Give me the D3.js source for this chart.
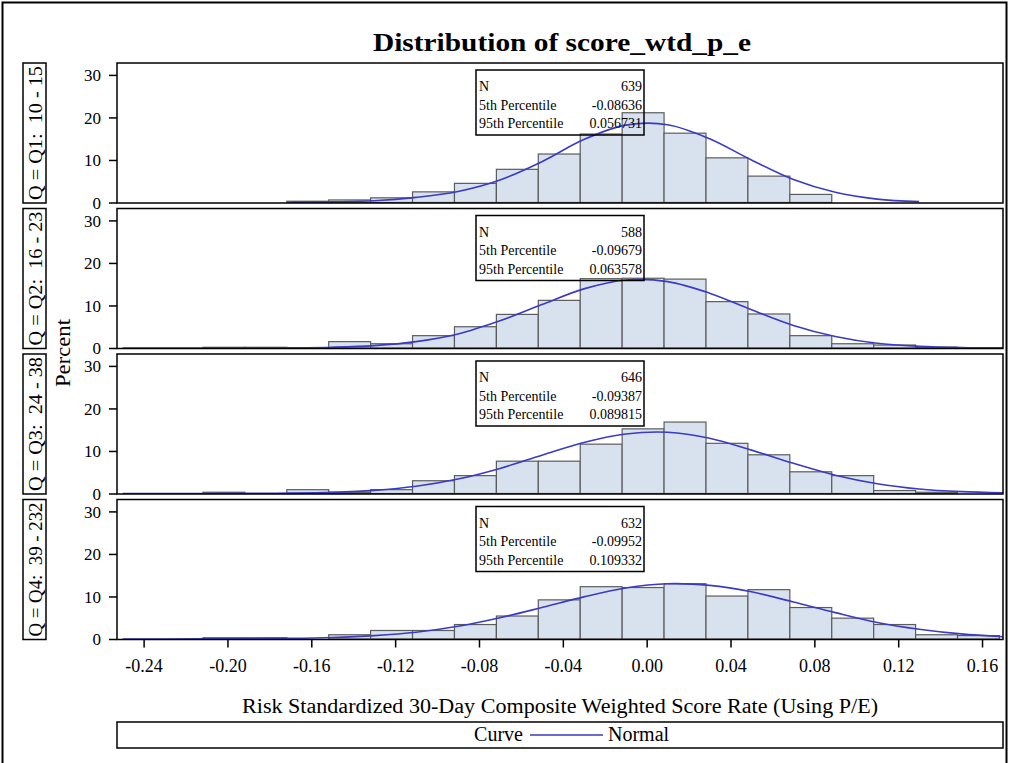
<!DOCTYPE html>
<html>
<head>
<meta charset="utf-8">
<script src="https://cdn.jsdelivr.net/npm/d3@7"></script>
<style>
    body { margin: 0; background: #fff; }
</style>
</head>
<body>
<div id="contents"></div>
<script>
// histogram bins (midpoints as drawn, sitting a little left of the ticks), percent per bin
var binMid = [-0.2417, -0.2217, -0.2017, -0.1817, -0.1617, -0.1417, -0.1217, -0.1017, -0.0817, -0.0617, -0.0417,
              -0.0217, -0.0017, 0.0183, 0.0383, 0.0583, 0.0783, 0.0983, 0.1183, 0.1383, 0.1583];
var pctQ1  = [0, 0, 0, 0, 0.3, 0.6, 1.1, 2.5, 4.5, 7.8, 11.4, 16.1, 21.1, 16.3, 10.5, 6.2, 1.9, 0, 0, 0, 0];
var pctQ2  = [0, 0, 0.17, 0.17, 0, 1.5, 1.0, 2.9, 5.0, 7.9, 11.2, 16.3, 16.4, 16.2, 10.9, 8.0, 2.9, 1.0, 0.7, 0.2, 0];
var pctQ3  = [0, 0, 0.3, 0, 0.9, 0.3, 0.9, 3.0, 4.2, 7.6, 7.6, 11.6, 15.2, 16.8, 11.8, 9.1, 5.1, 4.2, 0.7, 0.3, 0];
var pctQ4  = [0, 0, 0.3, 0.3, 0, 1.0, 2.0, 2.0, 3.4, 5.4, 9.2, 12.3, 12.1, 13.0, 10.1, 11.6, 7.4, 4.9, 3.4, 1.0, 0.8];

// fitted normal curve, read at these x positions (null = not drawn)
var curveX  = [-0.25, -0.23, -0.21, -0.19, -0.17, -0.15, -0.13, -0.11, -0.09, -0.07, -0.05,
               -0.03, -0.01, 0.01, 0.03, 0.05, 0.07, 0.09, 0.11, 0.13, 0.15, 0.17];
var curveQ1 = [null, null, null, null, 0.05, 0.15, 0.4, 1.2, 2.6, 5.3, 9.6, 14.8, 18.2, 18.3, 15.0, 10.0, 5.4, 2.4, 0.8, 0.2, null, null];
var curveQ2 = [0, 0, 0, 0.01, 0.05, 0.18, 0.56, 1.5, 3.3, 6.4, 10.2, 13.9, 16.0, 15.6, 12.9, 9.0, 5.3, 2.7, 1.1, 0.41, 0.12, 0.03];
var curveQ3 = [0, 0, 0.01, 0.03, 0.1, 0.29, 0.74, 1.7, 3.4, 5.9, 9.0, 12.0, 14.0, 14.4, 13.0, 10.2, 7.1, 4.3, 2.3, 1.06, 0.43, 0.15];
var curveQ4 = [0, 0.01, 0.02, 0.05, 0.14, 0.35, 0.8, 1.6, 3.0, 5.0, 7.4, 9.9, 12.0, 13.0, 12.6, 11.1, 8.7, 6.2, 3.9, 2.3, 1.2, 0.54];

var groups   = ['Q = Q1:  10 - 15', 'Q = Q2:  16 - 23', 'Q = Q3:  24 - 38', 'Q = Q4:  39 - 232'];
var statN    = ['639', '588', '646', '632'];
var stat5th  = ['-0.08636', '-0.09679', '-0.09387', '-0.09952'];
var stat95th = ['0.056731', '0.063578', '0.089815', '0.109332'];

var xTicks  = [-0.24, -0.20, -0.16, -0.12, -0.08, -0.04, 0.00, 0.04, 0.08, 0.12, 0.16];
var xLabels = ['-0.24', '-0.20', '-0.16', '-0.12', '-0.08', '-0.04', '0.00', '0.04', '0.08', '0.12', '0.16'];
var yTicks  = [0, 10, 20, 30];

window.onload = function(){
    'use strict';
    var WIDTH      = 1010;
    var HEIGHT     = 763;
    var LEFT       = 117;
    var RIGHT      = 1003;
    var TOP        = 63;
    var PANEL_H    = 140;
    var STEP       = 145.5;
    var BIN        = 0.02;
    var FONT       = '"Liberation Serif", "Times New Roman", Times, serif';
    var BAR_FILL   = '#d8e2ef';
    var BAR_STROKE = '#5c5c5c';
    var CURVE      = '#3a3ac4';

    var pcts   = [pctQ1, pctQ2, pctQ3, pctQ4];
    var curves = [curveQ1, curveQ2, curveQ3, curveQ4];

    var svg = d3.select('#contents')
        .append('svg')
        .attr('width', WIDTH)
        .attr('height', HEIGHT)
        .style('font-family', FONT);

    function label(sel, size) {
        return sel.append('text')
            .style('font-family', FONT)
            .attr('font-size', size)
            .attr('fill', '#000');
    }

    // outer frame (bottom edge falls outside the picture)
    svg.append('rect')
        .attr('x', 2.5).attr('y', 2.5)
        .attr('width', 1004).attr('height', 800)
        .attr('fill', 'none').attr('stroke', '#000').attr('stroke-width', 2);

    var x = d3.scaleLinear().domain([-0.2527, 0.1700]).range([LEFT, RIGHT]);

    svg.append('defs').append('clipPath').attr('id', 'clip')
        .append('rect').attr('x', LEFT).attr('y', 0).attr('width', RIGHT - LEFT).attr('height', PANEL_H);

    label(svg, 25)
        .attr('x', 562).attr('y', 51)
        .attr('text-anchor', 'middle')
        .attr('font-weight', 'bold')
        .attr('textLength', 378).attr('lengthAdjust', 'spacingAndGlyphs')
        .text('Distribution of score_wtd_p_e');

    groups.forEach(function(name, gi) {
        var top = TOP + gi * STEP;
        var g = svg.append('g').attr('transform', 'translate(0,' + top + ')');
        var y = d3.scaleLinear().domain([0, 32.8]).range([PANEL_H - 0.5, 0]);

        var rows = binMid.map(function(m, i) { return {mid: m, pct: pcts[gi][i]}; })
            .filter(function(d) { return d.pct > 0; });

        var plot = g.append('g').attr('clip-path', 'url(#clip)');

        plot.selectAll('.bar')
            .data(rows)
            .enter()
            .append('rect')
            .attr('class', 'bar')
            .attr('x', function(d) { return x(d.mid - BIN / 2); })
            .attr('width', function(d) { return x(d.mid + BIN / 2) - x(d.mid - BIN / 2); })
            .attr('y', function(d) { return y(d.pct); })
            .attr('height', function(d) { return y(0) - y(d.pct); })
            .attr('fill', BAR_FILL)
            .attr('stroke', BAR_STROKE)
            .attr('stroke-width', 1.2);

        // inset statistics table
        var box = g.append('g').attr('transform', 'translate(476,7)');
        box.append('rect')
            .attr('width', 168).attr('height', 65)
            .attr('fill', 'none').attr('stroke', '#000').attr('stroke-width', 1.5);
        var statRows = [['N', statN[gi]], ['5th Percentile', stat5th[gi]], ['95th Percentile', stat95th[gi]]];
        statRows.forEach(function(r, ri) {
            label(box, 14).attr('x', 3).attr('y', 21 + ri * 18.5).text(r[0]);
            label(box, 14).attr('x', 166).attr('y', 21 + ri * 18.5)
                .attr('text-anchor', 'end').text(r[1]);
        });

        var pts = curveX.map(function(v, i) { return {x: v, y: curves[gi][i]}; });
        var line = d3.line()
            .defined(function(d) { return d.y !== null; })
            .x(function(d) { return x(d.x); })
            .y(function(d) { return y(d.y); })
            .curve(d3.curveCatmullRom);
        plot.append('path')
            .datum(pts)
            .attr('d', line)
            .attr('fill', 'none')
            .attr('stroke', CURVE)
            .attr('stroke-width', 1.6);

        g.append('rect')
            .attr('x', LEFT).attr('y', 0)
            .attr('width', RIGHT - LEFT).attr('height', PANEL_H)
            .attr('fill', 'none').attr('stroke', '#000').attr('stroke-width', 1.5);

        var yAxis = g.append('g')
            .attr('transform', 'translate(' + LEFT + ',0)')
            .call(d3.axisLeft(y).tickValues(yTicks).tickSize(8).tickFormat(d3.format('d')));
        yAxis.select('.domain').remove();
        yAxis.selectAll('line').attr('stroke-width', 1.5);
        yAxis.selectAll('text')
            .style('font-family', FONT).attr('font-size', 17).attr('x', -16).attr('dy', '0.34em');

        // strip label on the left
        g.append('rect')
            .attr('x', 23).attr('y', 0)
            .attr('width', 23).attr('height', PANEL_H)
            .attr('fill', 'none').attr('stroke', '#000').attr('stroke-width', 1.5);
        label(g, 18)
            .attr('transform', 'translate(42,' + (PANEL_H / 2) + ') rotate(-90)')
            .attr('text-anchor', 'middle')
            .attr('textLength', 134).attr('lengthAdjust', 'spacingAndGlyphs')
            .style('white-space', 'pre')
            .text(name);
    });

    var bottom = TOP + 3 * STEP + PANEL_H;
    var xAxis = svg.append('g')
        .attr('transform', 'translate(0,' + bottom + ')')
        .call(d3.axisBottom(x).tickValues(xTicks).tickSize(8)
            .tickFormat(function(d, i) { return xLabels[i]; }));
    xAxis.select('.domain').remove();
    xAxis.selectAll('line').attr('stroke-width', 1.5);
    xAxis.selectAll('text').style('font-family', FONT).attr('font-size', 18).attr('y', 20);

    label(svg, 20)
        .attr('transform', 'translate(70,353) rotate(-90)')
        .attr('text-anchor', 'middle')
        .attr('textLength', 68).attr('lengthAdjust', 'spacingAndGlyphs')
        .text('Percent');

    label(svg, 20)
        .attr('x', 560).attr('y', 713)
        .attr('text-anchor', 'middle')
        .attr('textLength', 636).attr('lengthAdjust', 'spacingAndGlyphs')
        .text('Risk Standardized 30-Day Composite Weighted Score Rate (Using P/E)');

    // legend
    var legend = svg.append('g').attr('transform', 'translate(' + LEFT + ',722)');
    legend.append('rect')
        .attr('width', RIGHT - LEFT).attr('height', 26)
        .attr('fill', 'none').attr('stroke', '#000').attr('stroke-width', 1.5);
    label(legend, 20).attr('x', 406).attr('y', 19).attr('text-anchor', 'end').text('Curve');
    legend.append('line').attr('x1', 413).attr('x2', 486).attr('y1', 13).attr('y2', 13)
        .attr('stroke', CURVE).attr('stroke-width', 1.6);
    label(legend, 20).attr('x', 491).attr('y', 19).text('Normal');
};
</script>
</body>
</html>
